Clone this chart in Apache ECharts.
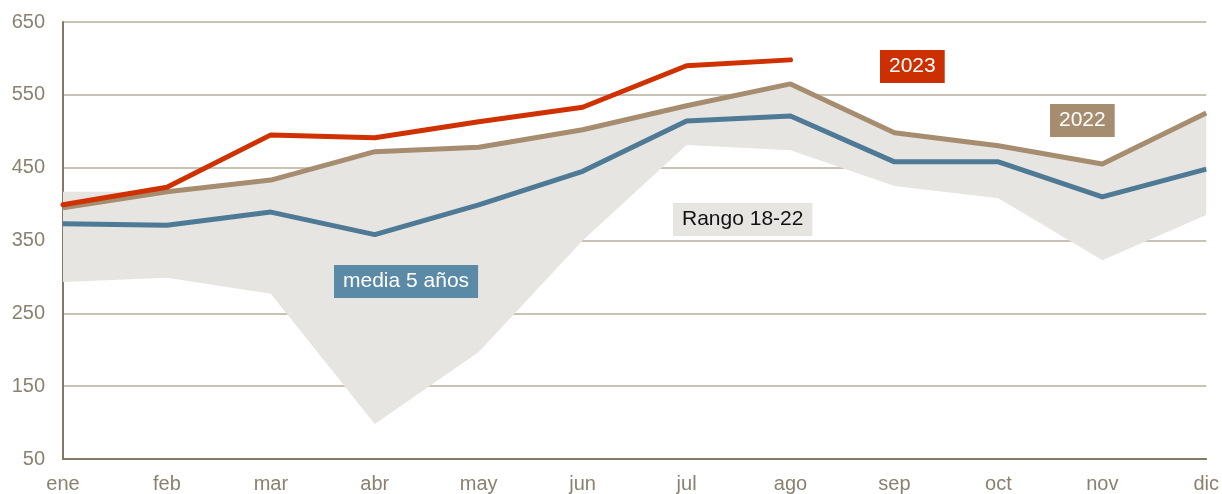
<!DOCTYPE html>
<html><head><meta charset="utf-8">
<script src="https://cdn.jsdelivr.net/npm/echarts@6/dist/echarts.min.js"></script>
<style>html,body{margin:0;padding:0;background:#fff}#c{width:1222px;height:494px}</style>
</head><body><div id="c"></div>
<script>
const months = ['ene','feb','mar','abr','may','jun','jul','ago','sep','oct','nov','dic'];
const y2023 = [399, 423, 495, 491, 513, 533, 590, 598];
const y2022 = [395, 417, 433, 472, 478, 502, 535, 565, 498, 480, 455, 525];
const media5 = [373, 371, 389, 358, 399, 445, 514, 521, 458, 458, 410, 448];
const rangeLow = [293, 299, 277, 98, 197, 350, 481, 474, 425, 408, 323, 385];
const rangeHigh = [417, 417, 433, 472, 478, 502, 535, 565, 498, 480, 455, 525];
const yTicks = [50, 150, 250, 350, 450, 550, 650];

const font = '"Liberation Sans", Arial, sans-serif';
const chart = echarts.init(document.getElementById('c'), null, {renderer: 'canvas'});
const boxStyle = (text, fill, bg) => ({text, fill, font: '21px ' + font, lineHeight: 21,
  backgroundColor: bg, padding: [6, 9, 6, 9]});
chart.setOption({
  animation: false,
  backgroundColor: '#fff',
  grid: {left: 63, right: 15, top: 22, bottom: 35},
  xAxis: {
    type: 'category', data: months, boundaryGap: false,
    axisLine: {lineStyle: {color: '#817a66', width: 2}},
    axisTick: {show: false},
    axisLabel: {color: '#8a8270', fontSize: 20, fontFamily: font, margin: 15, interval: 0}
  },
  yAxis: {
    type: 'value', min: yTicks[0], max: yTicks[yTicks.length - 1], interval: 100,
    axisLine: {show: true, lineStyle: {color: '#817a66', width: 2}},
    axisTick: {show: false},
    splitLine: {lineStyle: {color: '#c9c3b5', width: 2}},
    axisLabel: {color: '#8a8270', fontSize: 20, fontFamily: font, margin: 18}
  },
  series: [
    {type: 'line', stack: 'band', data: rangeLow, symbol: 'none', lineStyle: {opacity: 0}, silent: true, z: 1},
    {type: 'line', stack: 'band', data: rangeHigh.map((v, i) => v - rangeLow[i]), symbol: 'none',
     lineStyle: {opacity: 0}, areaStyle: {color: '#e6e5e1', opacity: 1}, silent: true, z: 1},
    {type: 'line', data: media5, symbol: 'none', lineStyle: {color: '#4e7a96', width: 5}, z: 3},
    {type: 'line', data: y2022, symbol: 'none', lineStyle: {color: '#a68d70', width: 5}, z: 4},
    {type: 'line', data: y2023, symbol: 'none', lineStyle: {color: '#cf3100', width: 5, cap: 'round'}, z: 5}
  ],
  graphic: [
    {type: 'text', left: 880, top: 50, z: 10, style: boxStyle('2023', '#fff', '#cc2f00')},
    {type: 'text', left: 1050, top: 104, z: 10, style: boxStyle('2022', '#fff', '#a68d70')},
    {type: 'text', left: 673, top: 203, z: 10, style: boxStyle('Rango 18-22', '#111', '#e6e5e1')},
    {type: 'text', left: 334, top: 265, z: 10, style: boxStyle('media 5 años', '#fff', '#5b8aa7')}
  ]
});
</script></body></html>
